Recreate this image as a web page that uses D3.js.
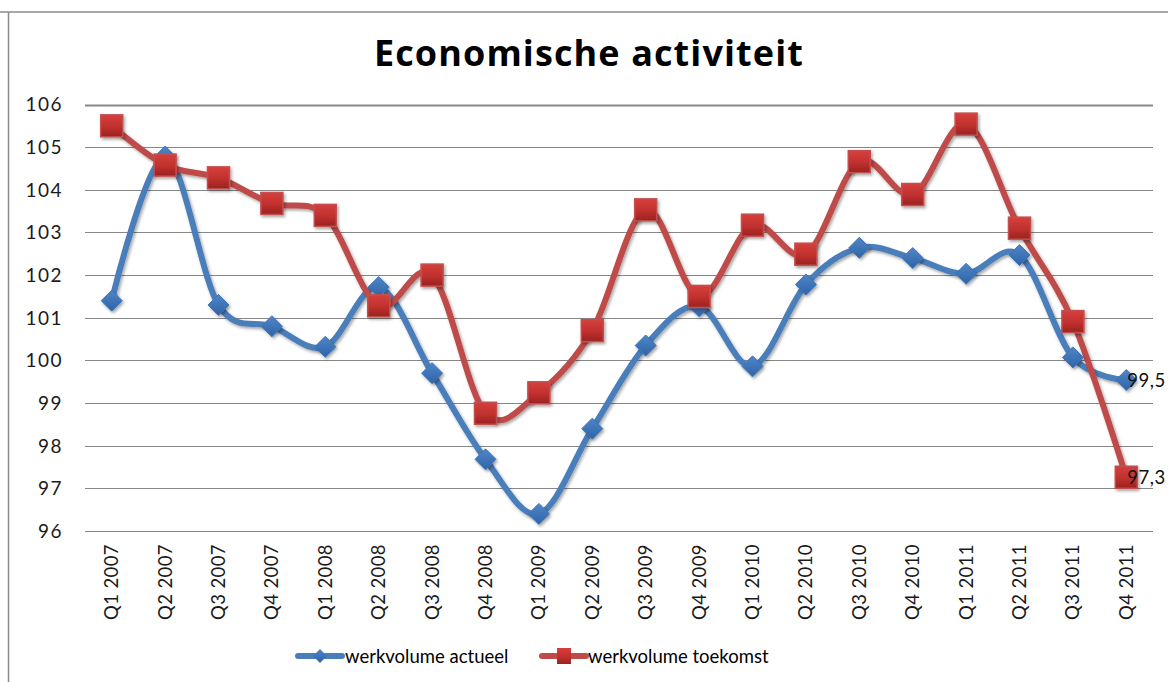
<!DOCTYPE html>
<html>
<head>
<meta charset="utf-8">
<script src="https://cdn.jsdelivr.net/npm/d3@7"></script>
<style>
  html, body { margin: 0; padding: 0; background: #fff; }
  svg { display: block; }
  text { font-family: Lato, "Open Sans", sans-serif; }
</style>
</head>
<body>
<script>
const categories = ["Q1 2007","Q2 2007","Q3 2007","Q4 2007","Q1 2008","Q2 2008","Q3 2008","Q4 2008",
  "Q1 2009","Q2 2009","Q3 2009","Q4 2009","Q1 2010","Q2 2010","Q3 2010","Q4 2010",
  "Q1 2011","Q2 2011","Q3 2011","Q4 2011"];
const actueel = [101.4, 104.78, 101.3, 100.8, 100.32, 101.72, 99.7, 97.68, 96.4, 98.4,
  100.35, 101.27, 99.86, 101.78, 102.64, 102.4, 102.03, 102.47, 100.07, 99.54];
const toekomst = [105.5, 104.58, 104.28, 103.68, 103.4, 101.28, 102.0, 98.76, 99.24, 100.7,
  103.53, 101.5, 103.17, 102.49, 104.66, 103.89, 105.54, 103.1, 100.91, 97.26];
const yTicks = [96, 97, 98, 99, 100, 101, 102, 103, 104, 105, 106];
const seriesNames = ["werkvolume actueel", "werkvolume toekomst"];
const lastLabels = ["99,5", "97,3"];
const title = "Economische activiteit";

const W = 1168, H = 682;
const svg = d3.select("body").append("svg").attr("width", W).attr("height", H);

const defs = svg.append("defs");
const sh = defs.append("filter").attr("id", "shadow").attr("x", "-50%").attr("y", "-50%").attr("width", "200%").attr("height", "200%");
sh.append("feDropShadow").attr("dx", 1.5).attr("dy", 2).attr("stdDeviation", 1.6).attr("flood-color", "#000").attr("flood-opacity", 0.35);
const gR = defs.append("linearGradient").attr("id", "gRed").attr("x1", 0).attr("y1", 0).attr("x2", 0).attr("y2", 1);
gR.append("stop").attr("offset", "0%").attr("stop-color", "#d6403c");
gR.append("stop").attr("offset", "55%").attr("stop-color", "#c0302e");
gR.append("stop").attr("offset", "100%").attr("stop-color", "#9a2221");
const gB = defs.append("linearGradient").attr("id", "gBlue").attr("x1", 0).attr("y1", 0).attr("x2", 0).attr("y2", 1);
gB.append("stop").attr("offset", "0%").attr("stop-color", "#4f86c8");
gB.append("stop").attr("offset", "100%").attr("stop-color", "#2f63a8");

// frame
svg.append("line").attr("x1", 0).attr("x2", W).attr("y1", 12).attr("y2", 12).attr("stroke", "#8a8a8a").attr("stroke-width", 1.5);
svg.append("line").attr("x1", 8.5).attr("x2", 8.5).attr("y1", 12).attr("y2", H).attr("stroke", "#8a8a8a").attr("stroke-width", 1.5);

// title
svg.append("text").attr("x", 589).attr("y", 66).attr("text-anchor", "middle")
  .attr("font-size", 36).attr("font-weight", "bold").attr("letter-spacing", 1.1).attr("fill", "#000")
  .style("font-family", "'Open Sans', sans-serif").text(title);

const x = d3.scaleBand().domain(categories).range([85, 1153]);
const y = d3.scaleLinear().domain([96, 106]).range([531, 104.5]);

// gridlines
svg.append("g").selectAll("line").data(yTicks).join("line")
  .attr("x1", 85).attr("x2", 1153)
  .attr("y1", d => Math.round(y(d)) + 0.5).attr("y2", d => Math.round(y(d)) + 0.5)
  .attr("stroke", "#878787").attr("stroke-width", d => d === 106 ? 2 : 1.2);

// y axis labels
const yAxis = d3.axisLeft(y).tickValues(yTicks).tickSize(0).tickPadding(0);
const yg = svg.append("g").attr("transform", "translate(63,0)").call(yAxis);
yg.select(".domain").remove();
yg.selectAll("text").attr("font-size", 19).attr("letter-spacing", 1.5).attr("fill", "#1a1a1a")
  .attr("font-family", "Lato, sans-serif").attr("dy", "0.34em");

// x axis labels
const xAxis = d3.axisBottom(x).tickSize(0).tickPadding(0);
const xg = svg.append("g").attr("transform", "translate(0,544)").call(xAxis);
xg.select(".domain").remove();
xg.selectAll("text")
  .attr("font-size", 18.5).attr("letter-spacing", 0.4).attr("fill", "#1a1a1a").attr("font-family", "Lato, sans-serif")
  .attr("transform", "rotate(-90)").attr("text-anchor", "end")
  .attr("x", 0).attr("y", 0).attr("dy", "0.35em");

const cx = (d, i) => x(categories[i]) + x.bandwidth() / 2;
const line = d3.line().x((d, i) => cx(d, i)).y(d => y(d)).curve(d3.curveCardinal.tension(0));

const colors = ["#4a7ebb", "#be4b48"];
const series = [actueel, toekomst];

series.forEach((s, k) => {
  svg.append("path").datum(s).attr("d", line).attr("fill", "none")
    .attr("stroke", colors[k]).attr("stroke-width", 6).attr("stroke-linejoin", "round")
    .attr("filter", "url(#shadow)");
});

// markers
const diamond = r => `M0,${-r}L${r},0L0,${r}L${-r},0Z`;
svg.append("g").selectAll("path").data(actueel).join("path")
  .attr("transform", (d, i) => `translate(${cx(d, i)},${y(d)})`)
  .attr("d", diamond(10.5)).attr("fill", "url(#gBlue)").attr("stroke", "#3f75b5").attr("stroke-width", 1)
  .attr("filter", "url(#shadow)");
svg.append("g").selectAll("rect").data(toekomst).join("rect")
  .attr("x", (d, i) => cx(d, i) - 11).attr("y", d => y(d) - 11)
  .attr("width", 22).attr("height", 22)
  .attr("fill", "url(#gRed)").attr("stroke", "#c2504d").attr("stroke-width", 1.5)
  .attr("filter", "url(#shadow)");

// data labels for last point
series.forEach((s, k) => {
  const i = s.length - 1;
  svg.append("text").attr("x", cx(s[i], i) + 1).attr("y", y(s[i])).attr("dy", "0.36em")
    .attr("font-size", 18.5).attr("letter-spacing", 0.5).attr("fill", "#111").text(lastLabels[k]);
});

// legend
const legend = [
  { x0: 298, x1: 342, tx: 345, k: 0 },
  { x0: 542, x1: 586, tx: 588, k: 1 }
];
const ly = 656;
legend.forEach(l => {
  svg.append("line").attr("x1", l.x0).attr("x2", l.x1).attr("y1", ly).attr("y2", ly)
    .attr("stroke", colors[l.k]).attr("stroke-width", 6).attr("stroke-linecap", "round");
  const mx = (l.x0 + l.x1) / 2;
  if (l.k === 0) {
    svg.append("path").attr("transform", `translate(${mx},${ly})`).attr("d", diamond(7))
      .attr("fill", "url(#gBlue)");
  } else {
    svg.append("rect").attr("x", mx - 7).attr("y", ly - 8).attr("width", 14).attr("height", 16)
      .attr("fill", "url(#gRed)");
  }
  svg.append("text").attr("x", l.tx).attr("y", ly).attr("dy", "0.36em")
    .attr("font-size", 18.5).attr("fill", "#000").text(seriesNames[l.k]);
});
</script>
</body>
</html>
